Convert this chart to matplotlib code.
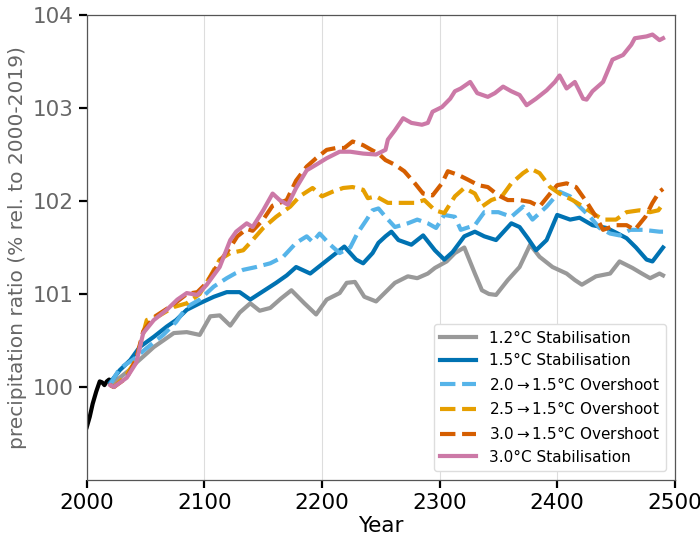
import numpy as np
import matplotlib.pyplot as plt

# observed record
hist_years = [2000, 2002.5, 2005, 2008, 2011, 2013, 2015, 2017, 2019, 2020]
hist_vals = [99.57, 99.68, 99.82, 99.95, 100.06, 100.05, 100.02, 100.06, 100.08, 100.05]

# 1.2C stabilisation
yr_12 = [2020, 2028, 2036, 2042, 2050, 2057, 2065, 2074, 2085, 2096, 2105, 2113, 2122, 2130,
         2139, 2147, 2156, 2165, 2174, 2185, 2195, 2204, 2215, 2221, 2228, 2236, 2246, 2254,
         2262, 2273, 2281, 2290, 2296, 2306, 2313, 2321, 2330, 2336, 2342, 2348, 2358, 2368,
         2377, 2385, 2396, 2408, 2415, 2421, 2433, 2445, 2453, 2464, 2472, 2479, 2487, 2490]
val_12 = [100.03, 100.1, 100.18, 100.26, 100.35, 100.43, 100.5, 100.58, 100.59, 100.56, 100.76,
          100.77, 100.66, 100.8, 100.9, 100.82, 100.85, 100.95, 101.04, 100.9, 100.78, 100.94,
          101.01, 101.12, 101.13, 100.97, 100.92, 101.02, 101.12, 101.19, 101.17, 101.22, 101.28,
          101.35, 101.44, 101.5, 101.22, 101.04, 101.0, 100.99, 101.15, 101.29, 101.53, 101.4,
          101.29, 101.22, 101.15, 101.1, 101.19, 101.22, 101.35, 101.28, 101.22, 101.17, 101.22,
          101.2]

# 1.5C stabilisation
yr_15 = [2020, 2028, 2037, 2045, 2057, 2068, 2076, 2085, 2096, 2108, 2119, 2130, 2139, 2150,
         2161, 2170, 2178, 2190, 2201, 2212, 2219, 2229, 2235, 2243, 2248, 2254, 2259, 2265,
         2276, 2286, 2296, 2304, 2311, 2321, 2330, 2338, 2348, 2361, 2368, 2375, 2382, 2391,
         2400, 2411, 2419, 2430, 2442, 2450, 2459, 2467, 2476, 2481, 2487, 2490]
val_15 = [100.05, 100.18, 100.29, 100.43, 100.54, 100.65, 100.72, 100.83, 100.9, 100.97, 101.02,
          101.02, 100.94, 101.03, 101.12, 101.2, 101.29, 101.22, 101.33, 101.44, 101.51, 101.37,
          101.33, 101.44, 101.55, 101.62, 101.67, 101.58, 101.53, 101.63, 101.47, 101.37, 101.45,
          101.62, 101.67, 101.62, 101.58, 101.76, 101.72, 101.6, 101.47, 101.58, 101.85, 101.8,
          101.82, 101.74, 101.71, 101.66, 101.6, 101.5, 101.37, 101.35, 101.45, 101.5]

# 2.0 -> 1.5C overshoot
yr_20 = [2020, 2028, 2040, 2051, 2065, 2076, 2085, 2096, 2108, 2119, 2126, 2133, 2144, 2156,
         2167, 2178, 2187, 2192, 2198, 2207, 2215, 2224, 2230, 2238, 2243, 2248, 2254, 2262,
         2273, 2281, 2290, 2297, 2304, 2313, 2318, 2330, 2338, 2350, 2361, 2371, 2379, 2391,
         2402, 2411, 2419, 2428, 2436, 2445, 2453, 2462, 2473, 2487, 2490]
val_20 = [100.03, 100.2, 100.3, 100.42, 100.56, 100.7, 100.86, 100.94, 101.08, 101.17, 101.22,
          101.26, 101.29, 101.33, 101.4, 101.55, 101.62, 101.56, 101.65, 101.53, 101.44, 101.5,
          101.65, 101.8, 101.9, 101.92, 101.83, 101.72, 101.76, 101.8, 101.76, 101.71, 101.85,
          101.83, 101.69, 101.74, 101.88, 101.88, 101.83, 101.94, 101.8, 101.94, 102.1, 102.05,
          101.94, 101.83, 101.71, 101.65, 101.63, 101.69, 101.69, 101.67, 101.67]

# 2.5 -> 1.5C overshoot
yr_25 = [2020, 2023, 2033, 2042, 2051, 2062, 2074, 2085, 2096, 2105, 2113, 2122, 2133, 2141,
         2150, 2161, 2173, 2181, 2192, 2200, 2209, 2218, 2226, 2235, 2239, 2246, 2256, 2268,
         2279, 2287, 2296, 2304, 2313, 2321, 2330, 2336, 2344, 2353, 2361, 2371, 2377, 2385,
         2394, 2402, 2413, 2422, 2430, 2439, 2450, 2459, 2470, 2479, 2486, 2490]
val_25 = [100.02, 100.0, 100.12, 100.29, 100.72, 100.77, 100.86, 100.9, 101.0, 101.19, 101.37,
          101.44, 101.47, 101.58, 101.71, 101.83, 101.94, 102.05, 102.14, 102.05, 102.1, 102.14,
          102.15, 102.12, 102.03, 102.05, 101.98, 101.98, 101.98, 102.01, 101.9, 101.87, 102.05,
          102.14, 102.08, 101.94, 102.01, 102.05, 102.19, 102.3, 102.35, 102.3, 102.15, 102.08,
          102.01, 101.94, 101.87, 101.8, 101.8, 101.88, 101.9, 101.88, 101.9, 101.97]

# 3.0 -> 1.5C overshoot
yr_30os = [2020, 2023, 2034, 2042, 2048, 2057, 2068, 2077, 2085, 2094, 2102, 2113, 2122, 2128,
           2136, 2141, 2150, 2158, 2164, 2170, 2178, 2187, 2195, 2204, 2212, 2219, 2226, 2235,
           2242, 2248, 2254, 2262, 2270, 2279, 2286, 2294, 2302, 2307, 2316, 2324, 2333, 2341,
           2350, 2358, 2368, 2377, 2385, 2394, 2400, 2408, 2416, 2425, 2433, 2439, 2450, 2459,
           2466, 2475, 2481, 2487, 2490]
val_30os = [100.02, 100.0, 100.1, 100.3, 100.6, 100.75, 100.84, 100.92, 101.0, 101.02, 101.12,
            101.35, 101.5, 101.62, 101.7, 101.68, 101.8, 101.95, 101.98, 102.01, 102.22, 102.37,
            102.46, 102.55, 102.57, 102.57, 102.64, 102.6, 102.55, 102.51, 102.44, 102.39, 102.32,
            102.19, 102.08, 102.06, 102.19, 102.32, 102.28, 102.23, 102.17, 102.15, 102.06, 102.01,
            102.01, 101.99, 101.94, 102.08, 102.17, 102.19, 102.15, 101.99, 101.83, 101.69, 101.74,
            101.74, 101.69, 101.83, 101.98, 102.1, 102.13]

# 3.0C stabilisation
yr_30 = [2020, 2023, 2034, 2042, 2048, 2057, 2068, 2077, 2085, 2094, 2102, 2113, 2122, 2127,
         2136, 2141, 2150, 2158, 2164, 2171, 2178, 2187, 2195, 2204, 2215, 2224, 2235, 2246,
         2254, 2256, 2262, 2269, 2276, 2285, 2290, 2294, 2302, 2309, 2313, 2318, 2326, 2332,
         2341, 2347, 2354, 2361, 2368, 2374, 2382, 2391, 2398, 2402, 2408, 2415, 2422, 2425,
         2430, 2439, 2447, 2456, 2463, 2466, 2476, 2481, 2487, 2490]
val_30 = [100.02, 100.0, 100.1, 100.26, 100.58, 100.72, 100.83, 100.94, 101.01, 100.99, 101.1,
          101.29, 101.58, 101.67, 101.76, 101.72, 101.9, 102.08, 102.01, 101.96, 102.14, 102.33,
          102.39, 102.46, 102.53, 102.53, 102.51, 102.5, 102.55, 102.66, 102.76, 102.89, 102.84,
          102.82, 102.84, 102.96, 103.01, 103.1, 103.18, 103.21, 103.28, 103.16, 103.12, 103.16,
          103.23, 103.18, 103.14, 103.03, 103.1, 103.19, 103.28, 103.35, 103.21, 103.28, 103.1,
          103.09, 103.18, 103.28, 103.52, 103.57, 103.68, 103.75, 103.77, 103.79, 103.73, 103.75]

labels = ['1.2°C Stabilisation', '1.5°C Stabilisation',
          '2.0$\\rightarrow$1.5°C Overshoot', '2.5$\\rightarrow$1.5°C Overshoot',
          '3.0$\\rightarrow$1.5°C Overshoot', '3.0°C Stabilisation']
colours = ['#999999', '#0072B2', '#56B4E9', '#E69F00', '#D55E00', '#CC79A7']

fig = plt.figure(figsize=(7, 5.36), dpi=100)
ax = fig.add_axes([0.124, 0.1045, 0.84, 0.8675])

ax.plot(hist_years, hist_vals, color='k', lw=3)

series = [(yr_12, val_12, '-'), (yr_15, val_15, '-'), (yr_20, val_20, '--'),
          (yr_25, val_25, '--'), (yr_30os, val_30os, '--'), (yr_30, val_30, '-')]
for (yr, vals, ls), lab, col in zip(series, labels, colours):
    ax.plot(yr, vals, ls=ls, color=col, lw=3, label=lab)

ax.set_xlim(2000, 2500)
ax.set_ylim(99, 104)
ax.set_xticks([2000, 2100, 2200, 2300, 2400, 2500])
ax.set_yticks([100, 101, 102, 103, 104])
ax.grid(axis='x', color='#dddddd', lw=0.8)
ax.set_axisbelow(True)

for sp in ax.spines.values():
    sp.set_color('#555555')
    sp.set_linewidth(0.9)

ax.tick_params(axis='both', length=6, width=1.6, labelsize=15.5)
ax.tick_params(axis='y', labelcolor='#666666')
ax.set_xlabel('Year', fontsize=15.5, labelpad=2)
ax.set_ylabel('precipitation ratio (% rel. to 2000-2019)', fontsize=14.5, color='#666666')

ax.legend(loc='lower right', fontsize=11, handlelength=2.4, framealpha=1,
          edgecolor='#dddddd', borderaxespad=0.6)

fig.savefig('out.png', dpi=100)
